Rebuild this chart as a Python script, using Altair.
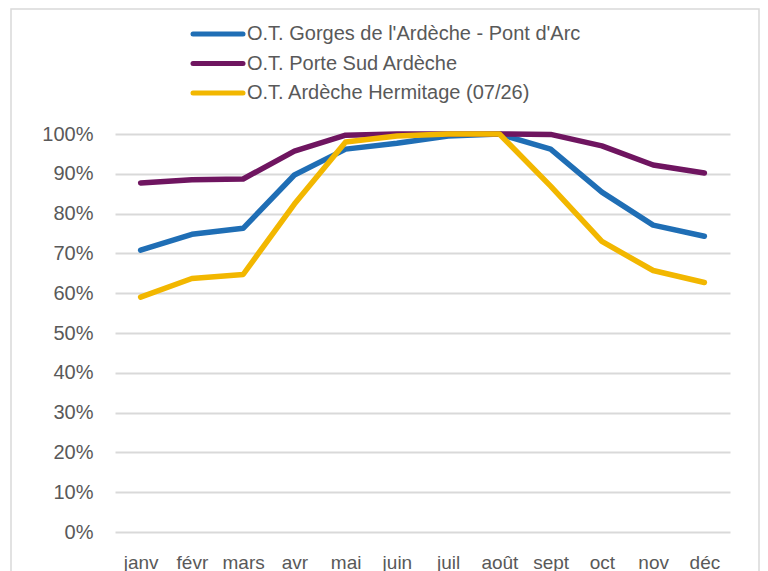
import altair as alt
import pandas as pd

months = ["janv", "févr", "mars", "avr", "mai", "juin", "juil", "août", "sept", "oct", "nov", "déc"]
series = ["O.T. Gorges de l'Ardèche - Pont d'Arc", "O.T. Porte Sud Ardèche", "O.T. Ardèche Hermitage (07/26)"]
colors = ["#1F6EB5", "#6F1560", "#F2B700"]

gorges = [0.708, 0.748, 0.763, 0.897, 0.962, 0.977, 0.995, 1.0, 0.962, 0.854, 0.771, 0.743]
porte_sud = [0.877, 0.885, 0.887, 0.957, 0.997, 1.0, 1.0, 1.0, 0.999, 0.970, 0.922, 0.902]
hermitage = [0.590, 0.637, 0.647, 0.824, 0.980, 0.995, 1.0, 1.0, 0.869, 0.730, 0.657, 0.627]

rows = []
for name, vals in zip(series, [gorges, porte_sud, hermitage]):
    for i, (m, v) in enumerate(zip(months, vals)):
        rows.append({"mois": m, "serie": name, "valeur": v, "ordre": series.index(name)})
df = pd.DataFrame(rows)
df_leg = pd.DataFrame({"serie": series})

FONT = "Liberation Sans"
TXT = "#595959"
GRID = "#D9D9D9"

W, H = 615, 398

color_scale = alt.Scale(domain=series, range=colors)

lines = alt.Chart(df).mark_line(strokeWidth=5.5, strokeCap="round", strokeJoin="round").encode(
    x=alt.X("mois:N", sort=months, scale=alt.Scale(domain=months, type="point", padding=0.5),
            axis=alt.Axis(title=None, labelFont=FONT, labelFontSize=19,
                          labelColor=TXT, labelPadding=21, ticks=False, domain=False, grid=False,
                          labelAngle=0)),
    y=alt.Y("valeur:Q", scale=alt.Scale(domain=[0, 1], nice=False),
            axis=alt.Axis(title=None, format=".0%", values=[i / 10 for i in range(11)],
                          labelFont=FONT, labelFontSize=20, labelColor=TXT, labelPadding=22,
                          ticks=False, domain=False, gridColor=GRID, gridWidth=2)),
    color=alt.Color("serie:N", scale=color_scale, legend=None),
    order=alt.Order("ordre:Q"),
    detail="serie:N",
)

leg_y = alt.Y("serie:N", scale=alt.Scale(domain=series, type="point", range=[-100, -41], padding=0),
              axis=None)

leg_sym = alt.Chart(df_leg).mark_rule(strokeWidth=5, strokeCap="round", clip=False).encode(
    x=alt.value(78), x2=alt.value(128), y=leg_y,
    color=alt.Color("serie:N", scale=color_scale, legend=None),
)

leg_txt = alt.Chart(df_leg).mark_text(align="left", baseline="middle", font=FONT, fontSize=20,
                                      color=TXT, clip=False).encode(
    x=alt.value(132), y=leg_y, text="serie:N",
)

frame = alt.Chart(pd.DataFrame({"a": [0]})).mark_rect(
    fill=None, stroke=GRID, strokeWidth=1.5, clip=False
).encode(
    x=alt.value(-104), x2=alt.value(644), y=alt.value(-125), y2=alt.value(520)
)

chart = alt.layer(frame, lines, leg_sym, leg_txt).resolve_scale(y="independent").properties(
    width=W, height=H,
    autosize=alt.AutoSizeParams(type="none"),
    padding={"left": 107, "top": 126, "right": 30, "bottom": 39},
).configure_view(stroke=None)

chart.save("out.html", embed_options={"renderer": "svg", "actions": False})
